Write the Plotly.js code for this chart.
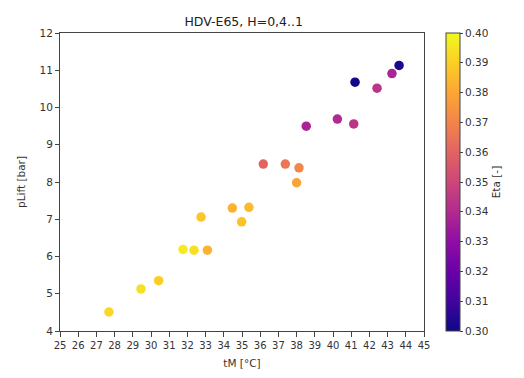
<!DOCTYPE html>
<html><head><meta charset="utf-8">
<script src="https://cdn.plot.ly/plotly-3.0.1.min.js"></script>
<style>html,body{margin:0;padding:0;background:#fff}#c{width:524px;height:378px}</style>
</head><body><div id="c"></div>
<script>
const tM    = [27.69, 29.45, 30.42, 31.76, 32.36, 33.10, 32.75, 34.47, 35.38, 34.98, 36.17, 37.38, 38.13, 38.00, 38.53, 40.24, 41.14, 41.21, 42.42, 43.24, 43.63];
const pLift = [4.51, 5.13, 5.35, 6.19, 6.17, 6.17, 7.06, 7.30, 7.32, 6.93, 8.48, 8.48, 8.38, 7.98, 9.50, 9.69, 9.56, 10.68, 10.52, 10.91, 11.13];
const eta   = [0.392, 0.394, 0.390, 0.397, 0.394, 0.383, 0.388, 0.383, 0.385, 0.387, 0.360, 0.366, 0.371, 0.379, 0.338, 0.340, 0.344, 0.301, 0.344, 0.338, 0.303];
const xTicks = [25,26,27,28,29,30,31,32,33,34,35,36,37,38,39,40,41,42,43,44,45];
const yTicks = [4,5,6,7,8,9,10,11,12];
const cbTicks = [0.30,0.31,0.32,0.33,0.34,0.35,0.36,0.37,0.38,0.39,0.40];
const plasma = [[0.0,'#0d0887'],[0.1,'#41049d'],[0.2,'#6a00a8'],[0.3,'#8f0da4'],[0.4,'#b12a90'],[0.5,'#cc4778'],[0.6,'#e16462'],[0.7,'#f2844b'],[0.8,'#fca636'],[0.9,'#fcce25'],[1.0,'#f0f921']];

const font = {family: 'DejaVu Sans', size: 10.5, color: '#333'};
Plotly.newPlot('c', [{
  x: tM, y: pLift, type: 'scatter', mode: 'markers',
  marker: {
    size: 9.5, color: eta, colorscale: plasma, cmin: 0.3, cmax: 0.4,
    line: {width: 0},
    colorbar: {
      x: 1.06, xanchor: 'left', y: 0.5, yanchor: 'middle', len: 1, lenmode: 'fraction',
      thickness: 14, outlinewidth: 1, outlinecolor: '#444', xpad: 0, ypad: 0,
      tickmode: 'array', tickvals: cbTicks, ticktext: cbTicks.map(v => v.toFixed(2)),
      ticks: 'outside', ticklen: 3, tickcolor: '#444', tickfont: font,
      title: {text: 'Eta [-]', side: 'right', font: font}
    }
  },
  hoverinfo: 'none'
}], {
  width: 524, height: 378,
  margin: {l: 60, r: 100, t: 33, b: 47, autoexpand: false},
  paper_bgcolor: '#fff', plot_bgcolor: '#fff',
  font: font,
  title: {text: 'HDV-E65, H=0,4..1', x: 0.465, xanchor: 'center', y: 0.955, font: {family: 'DejaVu Sans', size: 12.5, color: '#222'}},
  xaxis: {
    range: [25, 45], tickmode: 'array', tickvals: xTicks, ticktext: xTicks.map(String),
    showgrid: false, zeroline: false, showline: true, linecolor: '#444', linewidth: 1, mirror: true,
    ticks: 'outside', ticklen: 5, tickcolor: '#444', tickfont: {family: 'DejaVu Sans', size: 10, color: '#333'},
    title: {text: 'tM [°C]', font: font, standoff: 9}
  },
  yaxis: {
    range: [4, 12], tickmode: 'array', tickvals: yTicks, ticktext: yTicks.map(String),
    showgrid: false, zeroline: false, showline: true, linecolor: '#444', linewidth: 1, mirror: true,
    ticks: 'outside', ticklen: 4, tickcolor: '#444', tickfont: font,
    title: {text: 'pLift [bar]', font: font, standoff: 11}
  },
  showlegend: false
}, {staticPlot: true});
</script></body></html>
